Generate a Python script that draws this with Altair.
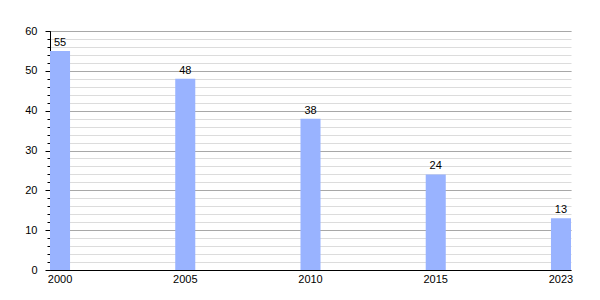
import altair as alt
import pandas as pd

years = ["2000", "2005", "2010", "2015", "2023"]
values = [55, 48, 38, 24, 13]

df = pd.DataFrame({"year": years, "value": values})

FONT = "Liberation Sans"
W, H = 521, 239

xscale = alt.Scale(paddingInner=0.84, paddingOuter=0.0)
x_axis = alt.Axis(title=None, labelAngle=0, ticks=False, domain=True,
                  domainColor="black", labelColor="black", labelFont=FONT,
                  labelFontSize=11, labelPadding=3, grid=False)
x_enc = alt.X("year:O", sort=years, scale=xscale, axis=x_axis)

yscale = alt.Scale(domain=[0, 60], nice=False)

minor = alt.Chart(df).mark_bar(opacity=0).encode(
    x=x_enc,
    y=alt.Y("value:Q", scale=yscale,
            axis=alt.Axis(title=None, orient="left", values=list(range(0, 61, 2)),
                          labels=False, tickSize=3, tickColor="black", grid=True,
                          gridColor="#dcdcdc", gridWidth=1, domain=False)),
)

bars = alt.Chart(df).mark_bar(color="#99b3ff").encode(
    x=x_enc,
    y=alt.Y("value:Q", scale=yscale,
            axis=alt.Axis(title=None, orient="left", values=list(range(0, 61, 10)),
                          tickSize=5, tickColor="black", grid=True, gridColor="#a8a8a8",
                          gridWidth=1, domain=True, domainColor="black",
                          labelColor="black", labelFont=FONT, labelFontSize=11,
                          labelPadding=8)),
)

labels = alt.Chart(df).mark_text(baseline="bottom", dy=-3, font=FONT, fontSize=11,
                                 color="black").encode(
    x=x_enc,
    y=alt.Y("value:Q", scale=yscale, axis=None),
    text="value:Q",
)

chart = alt.layer(minor, bars, labels).resolve_axis(y="independent").properties(
    width=W, height=H,
    autosize=alt.AutoSizeParams(type="none"),
    padding={"left": 50, "top": 31, "right": 29, "bottom": 30},
).configure_view(stroke=None).configure_axis(domainWidth=1)

chart.save("out.html", embed_options={"renderer": "svg", "actions": False})
